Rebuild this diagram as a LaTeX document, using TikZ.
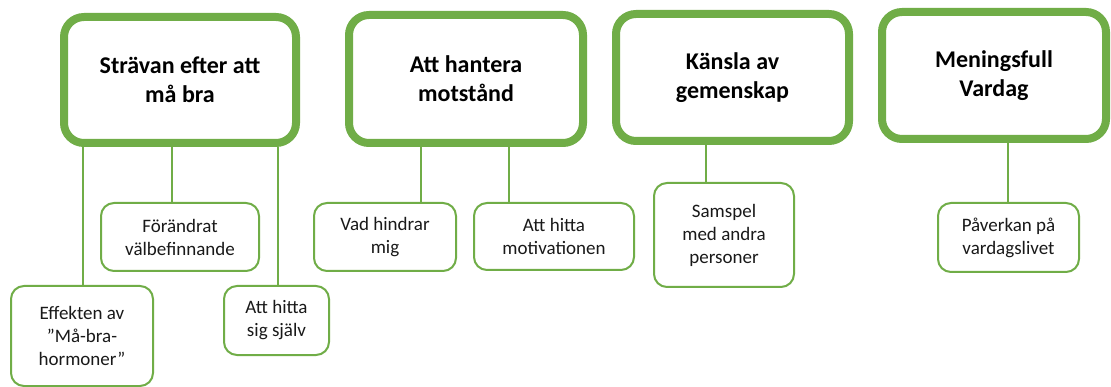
\documentclass[tikz,border=0pt]{standalone}
\usepackage{fontspec}
\setmainfont{Carlito}
\definecolor{ogreen}{HTML}{70AD47}
\tikzset{
  mainbox/.style={draw=ogreen, line width=8pt, rounded corners=20pt, fill=white,
    align=center, inner sep=0pt, font=\fontsize{24}{29}\selectfont\bfseries, text=black},
  subbox/.style={draw=ogreen, line width=2pt, rounded corners=13pt, fill=white,
    align=center, inner sep=0pt, font=\fontsize{19}{23}\selectfont, text=black!90},
  conn/.style={draw=ogreen, line width=1.6pt}
}
\begin{document}
\begin{tikzpicture}[x=1pt,y=-1pt]
\useasboundingbox[fill=white] (0,0) rectangle (1111,387);
% main boxes
\node[mainbox, minimum width=232pt, minimum height=126pt] (b1) at (180,80) {Strävan efter att\\må bra};
\node[mainbox, minimum width=234pt, minimum height=128pt] (b2) at (466,79) {Att hantera\\motstånd};
\node[mainbox, minimum width=233pt, minimum height=127pt] (b3) at (732.5,77.5) {Känsla av\\gemenskap};
\node[mainbox, minimum width=224pt, minimum height=127pt] (b4) at (994,75.5) {Meningsfull\\Vardag};
% sub boxes
\node[subbox, minimum width=158pt, minimum height=68pt] (s1) at (180,237) {Förändrat\\välbefinnande};
\node[subbox, minimum width=142pt, minimum height=100pt] (s2) at (82,336) {Effekten av\\”Må-bra-\\hormoner”};
\node[subbox, minimum width=105pt, minimum height=69pt] (s3) at (276.5,320.5) {Att hitta\\sig själv};
\node[subbox, minimum width=142pt, minimum height=68pt] (s4) at (385,237) {Vad hindrar\\mig};
\node[subbox, minimum width=160pt, minimum height=67pt] (s5) at (554,236.5) {Att hitta\\motivationen};
\node[subbox, minimum width=140pt, minimum height=104pt] (s6) at (724,235) {Samspel\\med andra\\personer};
\node[subbox, minimum width=141pt, minimum height=69pt] (s7) at (1008.5,237.5) {Påverkan på\\vardagslivet};
% connectors
\draw[conn] (b1.south -| 83,0) -- (s2.north -| 83,0);
\draw[conn] (b1.south -| 172,0) -- (s1.north -| 172,0);
\draw[conn] (b1.south -| 278,0) -- (s3.north -| 278,0);
\draw[conn] (b2.south -| 421,0) -- (s4.north -| 421,0);
\draw[conn] (b2.south -| 509,0) -- (s5.north -| 509,0);
\draw[conn] (b3.south -| 706,0) -- (s6.north -| 706,0);
\draw[conn] (b4.south -| 1008,0) -- (s7.north -| 1008,0);
\end{tikzpicture}
\end{document}
